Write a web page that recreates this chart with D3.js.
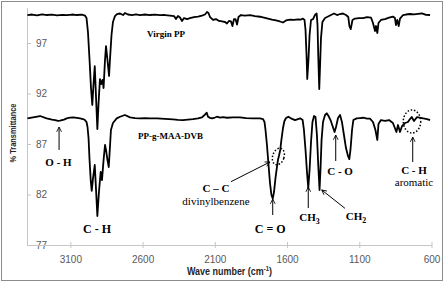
<!DOCTYPE html>
<html>
<head>
<meta charset="utf-8">
<script src="https://d3js.org/d3.v7.min.js"></script>
<style>
  body { margin: 0; background: #fff; }
  .axis text { font-family: "Liberation Sans", Arial, sans-serif; font-size: 10px; fill: #595959; }
  .axis line, .axis path { stroke: #c6c6c6; }
  .note { font-family: "Liberation Serif", "Times New Roman", serif; fill: #000; text-anchor: middle; }
  .title { font-family: "Liberation Sans", Arial, sans-serif; font-weight: bold; fill: #262626; }
</style>
</head>
<body>
<div id="chart"></div>
<script>
// tick values
const wnTicks = [3100, 2600, 2100, 1600, 1100, 600];
const tTicks = [77, 82, 87, 92, 97];

// [wave number, % transmittance]
const virginPP = [
  [3397,99.77],[3365,99.82],[3331,99.74],[3296,99.84],[3262,99.77],[3227,99.80],[3192,99.73],[3158,99.78],
  [3123,99.75],[3089,99.82],[3054,99.77],[3019,99.80],[2999,99.72],[2988,99.47],[2978,98.09],[2967,95.32],
  [2957,92.54],[2948,90.86],[2940,92.84],[2931,94.72],[2922,91.55],[2913,88.48],[2905,90.96],[2895,93.43],
  [2886,92.94],[2877,93.34],[2870,92.54],[2860,95.32],[2853,96.70],[2843,95.32],[2832,93.73],[2825,95.51],
  [2815,97.79],[2805,99.08],[2791,99.67],[2777,99.87],[2756,99.92],[2735,99.77],[2722,99.97],[2701,99.82],
  [2673,99.77],[2646,99.84],[2618,99.77],[2583,99.82],[2549,99.77],[2514,99.80],[2479,99.75],[2445,99.77],
  [2410,99.72],[2382,99.67],[2369,99.37],[2355,99.67],[2341,99.52],[2327,99.18],[2313,99.47],[2292,99.37],
  [2272,99.47],[2244,99.57],[2216,99.62],[2189,99.72],[2168,99.82],[2154,100.07],[2144,99.97],[2133,99.57],
  [2112,99.28],[2092,99.37],[2071,99.18],[2050,99.13],[2029,99.08],[2016,98.93],[2002,99.18],[1988,99.13],
  [1978,98.68],[1967,99.37],[1957,99.37],[1946,98.83],[1936,99.57],[1919,99.77],[1891,99.72],[1856,99.77],
  [1822,99.67],[1787,99.60],[1760,99.52],[1732,99.42],[1704,99.32],[1676,99.23],[1649,99.13],[1628,99.03],
  [1607,99.23],[1580,99.32],[1552,99.28],[1524,99.34],[1503,99.32],[1490,99.42],[1479,99.28],[1472,98.29],
  [1465,95.81],[1460,93.43],[1451,95.51],[1444,97.79],[1434,99.28],[1420,99.37],[1407,99.77],[1395,99.92],
  [1389,98.78],[1384,95.81],[1377,92.44],[1370,95.32],[1365,97.49],[1355,99.08],[1337,99.47],[1316,99.62],
  [1296,99.77],[1275,99.92],[1254,99.77],[1233,99.87],[1213,99.92],[1192,99.77],[1176,99.57],[1168,98.68],
  [1159,98.38],[1147,99.28],[1130,99.42],[1102,99.47],[1074,99.47],[1046,99.57],[1019,99.52],[1005,98.98],
  [991,98.19],[984,98.68],[975,97.99],[967,98.98],[950,99.28],[922,99.37],[894,99.52],[867,99.62],
  [853,99.47],[846,98.78],[837,99.28],[827,98.68],[818,99.42],[797,99.77],[777,99.82],[749,99.87],
  [721,99.84],[693,99.89],[666,99.94],[638,99.78],[610,99.77]
];

const graftedPP = [
  [3397,89.54],[3358,89.64],[3310,89.77],[3264,89.54],[3227,89.42],[3206,89.37],[3185,89.28],[3172,89.31],
  [3144,89.42],[3125,89.54],[3102,89.62],[3080,89.64],[3054,89.59],[3033,89.54],[3012,89.47],[2999,89.37],
  [2988,89.18],[2981,88.68],[2974,87.59],[2967,85.41],[2959,83.43],[2952,82.35],[2943,83.63],[2931,84.92],
  [2922,82.44],[2913,79.87],[2902,82.25],[2890,84.23],[2881,83.43],[2870,85.41],[2860,86.90],[2853,86.41],
  [2843,85.41],[2834,84.72],[2825,86.90],[2819,88.39],[2805,89.08],[2779,89.54],[2756,89.70],[2722,89.87],
  [2687,89.64],[2652,89.57],[2618,89.54],[2583,89.57],[2549,89.54],[2500,89.54],[2445,89.49],[2389,89.44],
  [2355,89.39],[2320,89.37],[2286,89.42],[2251,89.47],[2216,89.54],[2189,89.64],[2171,89.87],[2156,90.10],
  [2147,89.70],[2133,89.59],[2119,89.54],[2099,89.62],[2085,89.70],[2064,89.62],[2043,89.67],[2016,89.60],
  [1974,89.64],[1926,89.64],[1884,89.57],[1836,89.54],[1787,89.54],[1766,89.47],[1756,89.18],[1749,88.39],
  [1739,86.90],[1728,84.92],[1718,83.14],[1708,81.95],[1699,81.60],[1690,82.25],[1680,83.63],[1669,84.82],
  [1663,85.41],[1656,85.81],[1647,86.41],[1639,87.40],[1628,88.58],[1618,89.28],[1607,89.57],[1591,89.70],
  [1573,89.54],[1545,89.37],[1524,89.47],[1510,89.54],[1492,89.37],[1483,88.39],[1472,86.41],[1462,84.23],
  [1453,82.64],[1444,84.43],[1434,87.20],[1424,89.18],[1413,89.77],[1403,89.67],[1393,87.89],[1384,84.92],
  [1375,82.44],[1368,84.62],[1361,87.40],[1351,89.18],[1337,89.87],[1325,90.04],[1313,89.77],[1299,89.37],
  [1285,88.78],[1271,88.19],[1261,88.68],[1247,89.57],[1233,89.87],[1220,89.18],[1206,87.89],[1192,86.60],
  [1178,85.81],[1169,85.51],[1161,86.41],[1150,88.39],[1141,89.37],[1118,89.54],[1095,89.57],[1072,89.60],
  [1046,89.52],[1026,89.52],[1005,89.18],[988,88.39],[975,87.40],[967,88.98],[950,89.37],[922,89.28],
  [894,89.37],[867,89.08],[843,88.19],[832,88.88],[818,88.19],[804,88.78],[783,89.08],[763,89.18],
  [749,89.47],[737,89.67],[721,89.28],[700,89.67],[666,89.57],[631,89.47],[610,89.37]
];

// annotation labels, anchored in data units
const labels = [
  { parts: [["Virgin PP"]], wn: 2438, t: 97.64, size: 9, bold: true },
  { parts: [["PP-g-MAA-DVB"]], wn: 2407, t: 87.54, size: 9, bold: true },
  { parts: [["O - H"]], wn: 3182, t: 84.82, size: 11, bold: true },
  { parts: [["C - H"]], wn: 2915, t: 78.19, size: 12, bold: true },
  { parts: [["C \u2013 C"]], wn: 2092, t: 82.25, size: 11, bold: true },
  { parts: [["divinylbenzene"]], wn: 2092, t: 80.96, size: 11, bold: false },
  { parts: [["C = O"]], wn: 1716, t: 78.19, size: 12, bold: true },
  { parts: [["CH"], ["3", "sub"]], wn: 1445, t: 79.38, size: 11, bold: true },
  { parts: [["CH"], ["2", "sub"]], wn: 1123, t: 79.48, size: 11, bold: true },
  { parts: [["C - O"]], wn: 1233, t: 83.93, size: 11, bold: true },
  { parts: [["C - H"]], wn: 721, t: 84.03, size: 11, bold: true },
  { parts: [["aromatic"]], wn: 721, t: 82.84, size: 11, bold: false }
];

const arrows = [
  { from: [3178, 86.41], to: [3178, 88.68] },
  { from: [1988, 83.27], to: [1718, 85.22] },
  { from: [1699, 79.97], to: [1699, 81.55] },
  { from: [1453, 80.66], to: [1453, 82.74] },
  { from: [1199, 80.63], to: [1360, 82.45] },
  { from: [1263, 85.32], to: [1263, 87.89] },
  { from: [730, 85.22], to: [730, 87.69] }
];

const circles = [
  { wn: 1660, t: 85.76, rx: 5.7, ry: 8.5, rot: 18 },
  { wn: 735, t: 89.23, rx: 8.7, ry: 11.5, rot: 0 }
];

const svg = d3.select("#chart").append("svg")
  .attr("width", 445)
  .attr("height", 283);

svg.append("rect")
  .attr("x", 1.5).attr("y", 1.5)
  .attr("width", 441).attr("height", 279)
  .attr("fill", "#fff")
  .attr("stroke", "#8c8c8c");

const x = d3.scaleLinear().domain([3400, 600]).range([27, 431.5]);
const y = d3.scaleLinear().domain([77, 100.5]).range([245, 7.65]);

// y axis (labels sit inside the plot, like the original)
svg.append("g")
  .attr("class", "axis")
  .attr("transform", "translate(27,0)")
  .call(d3.axisRight(y).tickValues(tTicks).tickFormat(d3.format("d"))
    .tickSizeInner(4).tickSizeOuter(0).tickPadding(5));

// x axis
const xAxis = svg.append("g")
  .attr("class", "axis")
  .attr("transform", "translate(0,245)")
  .call(d3.axisBottom(x).tickValues(wnTicks).tickFormat(d3.format("d"))
    .tickSizeInner(3).tickSizeOuter(0).tickPadding(7.5));
xAxis.selectAll(".tick line").attr("y1", -3);

// axis titles
svg.append("text")
  .attr("class", "title")
  .attr("transform", "translate(16,133) rotate(-90)")
  .attr("text-anchor", "middle")
  .attr("font-size", 9.5)
  .attr("textLength", 59)
  .attr("lengthAdjust", "spacingAndGlyphs")
  .text("% Transmittance");

const tx = 187, ty = 275;
const xt = svg.append("text")
  .attr("class", "title")
  .attr("x", tx).attr("y", ty)
  .attr("font-size", 10);
xt.append("tspan").text("Wave number (cm");
xt.append("tspan").attr("font-size", 6.5).attr("dy", -4).text("-1");
xt.append("tspan").attr("dy", 4).text(")");
// squeeze to the narrow width of the original font
const xtw = xt.node().getComputedTextLength();
xt.attr("transform", `translate(${tx},${ty}) scale(${85 / xtw},1) translate(${-tx},${-ty})`);

// spectra
const line = d3.line()
  .x(d => x(d[0]))
  .y(d => y(d[1]));

svg.selectAll("path.spectrum")
  .data([virginPP, graftedPP])
  .join("path")
  .attr("class", "spectrum")
  .attr("d", line)
  .attr("fill", "none")
  .attr("stroke", "#000")
  .attr("stroke-width", 1.8)
  .attr("stroke-linejoin", "round");

// arrows
svg.append("defs").append("marker")
  .attr("id", "head")
  .attr("viewBox", "0 0 10 10")
  .attr("refX", 9).attr("refY", 5)
  .attr("markerWidth", 6).attr("markerHeight", 6)
  .attr("markerUnits", "userSpaceOnUse")
  .attr("orient", "auto")
  .append("path")
  .attr("d", "M1,1 L9,5 L1,9")
  .attr("fill", "none")
  .attr("stroke", "#000")
  .attr("stroke-width", 1.4);

svg.selectAll("line.arrow")
  .data(arrows)
  .join("line")
  .attr("class", "arrow")
  .attr("x1", d => x(d.from[0])).attr("y1", d => y(d.from[1]))
  .attr("x2", d => x(d.to[0])).attr("y2", d => y(d.to[1]))
  .attr("stroke", "#000")
  .attr("stroke-width", 1)
  .attr("marker-end", "url(#head)");

// dotted rings
svg.selectAll("ellipse.ring")
  .data(circles)
  .join("ellipse")
  .attr("class", "ring")
  .attr("transform", d => `translate(${x(d.wn)},${y(d.t)}) rotate(${d.rot})`)
  .attr("rx", d => d.rx).attr("ry", d => d.ry)
  .attr("fill", "none")
  .attr("stroke", "#000")
  .attr("stroke-width", 1.5)
  .attr("stroke-dasharray", "1.5,1.8");

// labels
labels.forEach(l => {
  const t = svg.append("text")
    .attr("class", "note")
    .attr("x", x(l.wn)).attr("y", y(l.t))
    .attr("font-size", l.size)
    .attr("font-weight", l.bold ? "bold" : "normal");
  l.parts.forEach(p => {
    const s = t.append("tspan").text(p[0]);
    if (p[1] === "sub") s.attr("font-size", l.size * 0.72).attr("dy", 3);
  });
});
</script>
</body>
</html>
